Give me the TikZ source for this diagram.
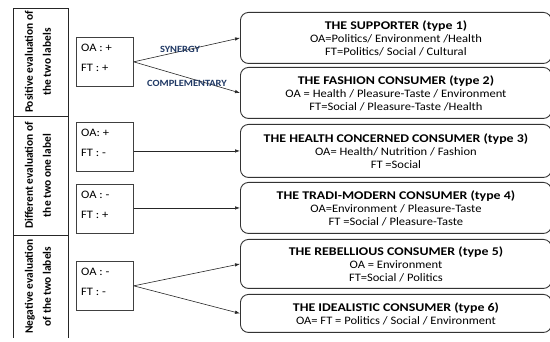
\documentclass[tikz,border=0pt]{standalone}
\usepackage{fontspec}
\setmainfont{Carlito}[FakeStretch=1.1]
\newfontfamily\rotfont{Carlito}
\usetikzlibrary{arrows.meta}
\definecolor{lblblue}{RGB}{31,56,100}
\newcommand\ttl[1]{\scalebox{1.07}[1]{\bfseries\fontsize{11.8}{13}\selectfont #1}}
\begin{document}
\begin{tikzpicture}[x=1pt,y=-1pt,
  cellline/.style={draw=black!85, line width=0.7pt},
  evalbox/.style={draw=black!75, line width=0.7pt, minimum width=57pt, minimum height=49pt, inner sep=0pt, anchor=north west},
  evaltxt/.style={anchor=west, inner sep=0pt, font=\fontsize{11.4}{13}\selectfont},
  typebox/.style={draw=black!80, line width=0.9pt, rounded corners=8pt, minimum width=311pt, inner sep=0pt, anchor=north west, align=center, font=\fontsize{11.4}{13}\selectfont},
  arr/.style={-{Latex[length=5pt,width=3.5pt]}, line width=0.6pt, draw=black!85},
  lbl/.style={font=\bfseries\fontsize{9.5}{11}\selectfont, text=lblblue, inner sep=0pt},
  rottxt/.style={rotate=90, align=center, font=\rotfont\bfseries\fontsize{11.4}{18}\selectfont, inner sep=0pt},
]
\useasboundingbox (0,0) rectangle (550,342);

% left column
\coordinate (tl) at (13,8);
\coordinate (tr) at (68,8);
\coordinate (bl) at (13,338);
\coordinate (br) at (68,338);
\coordinate (d1l) at (13,116);
\coordinate (d1r) at (68,116);
\coordinate (d2l) at (13,235);
\coordinate (d2r) at (68,235);
\draw[cellline] (bl) -- (tl) -- (tr) -- (br);
\draw[cellline] (d1l) -- (d1r);
\draw[cellline] (d2l) -- (d2r);
\node[rottxt] (c1) at (38,62) {Positive evaluation of\\the two labels};
\node[rottxt] (c2) at (38,175.5) {Different evaluation of\\the two one label};
\node[rottxt] (c3) at (38,286.5) {Negative evaluation\\of the two labels};

% evaluation boxes
\node[evalbox] (A) at (76,37) {};
\node[evalbox] (B) at (76,122) {};
\node[evalbox] (C) at (76,184) {};
\node[evalbox] (D) at (76,261) {};
\node[evaltxt] (Aoa) at ([xshift=5pt,yshift=-11pt]A.north west) {OA : +};
\node[evaltxt] (Aft) at ([xshift=5pt,yshift=-31pt]A.north west) {FT : +};
\node[evaltxt] (Boa) at ([xshift=5pt,yshift=-11pt]B.north west) {OA: +};
\node[evaltxt] (Bft) at ([xshift=5pt,yshift=-31pt]B.north west) {FT : -};
\node[evaltxt] (Coa) at ([xshift=5pt,yshift=-11pt]C.north west) {OA : -};
\node[evaltxt] (Cft) at ([xshift=5pt,yshift=-31pt]C.north west) {FT : +};
\node[evaltxt] (Doa) at ([xshift=5pt,yshift=-11pt]D.north west) {OA : -};
\node[evaltxt] (Dft) at ([xshift=5pt,yshift=-31pt]D.north west) {FT : -};

% type boxes
\node[typebox, minimum height=51pt] (t1) at (240,12) {\ttl{THE SUPPORTER (type 1)}\\OA=Politics/ Environment /Health\\FT=Politics/ Social / Cultural};
\node[typebox, minimum height=51pt] (t2) at (240,67) {\ttl{THE FASHION CONSUMER (type 2)}\\OA = Health / Pleasure-Taste / Environment\\FT=Social / Pleasure-Taste /Health};
\node[typebox, minimum height=53pt] (t3) at (240,124) {\ttl{THE HEALTH CONCERNED CONSUMER (type 3)}\\OA= Health/ Nutrition / Fashion\\FT =Social};
\node[typebox, minimum height=51pt] (t4) at (240,182) {\ttl{THE TRADI-MODERN CONSUMER (type 4)}\\OA=Environment / Pleasure-Taste\\FT =Social / Pleasure-Taste};
\node[typebox, minimum height=49pt] (t5) at (240,239) {\ttl{THE REBELLIOUS CONSUMER (type 5)}\\OA = Environment\\FT=Social / Politics};
\node[typebox, minimum height=38pt] (t6) at (240,294) {\ttl{THE IDEALISTIC CONSUMER (type 6)}\\OA= FT = Politics / Social / Environment};

% connectors
\draw[arr] (A.east) -- (t1.west);
\draw[arr] (A.east) -- (t2.west);
\draw[arr] (B.east |- t3.west) -- (t3.west);
\draw[arr] (C.east |- t4.west) -- (t4.west);
\draw[arr] (D.east) -- (t5.west);
\draw[arr] (D.east) -- (t6.west);

\node[lbl] (syn) at (180,49) {SYNERGY};
\node[lbl] (comp) at (187,83) {COMPLEMENTARY};
\end{tikzpicture}
\end{document}
